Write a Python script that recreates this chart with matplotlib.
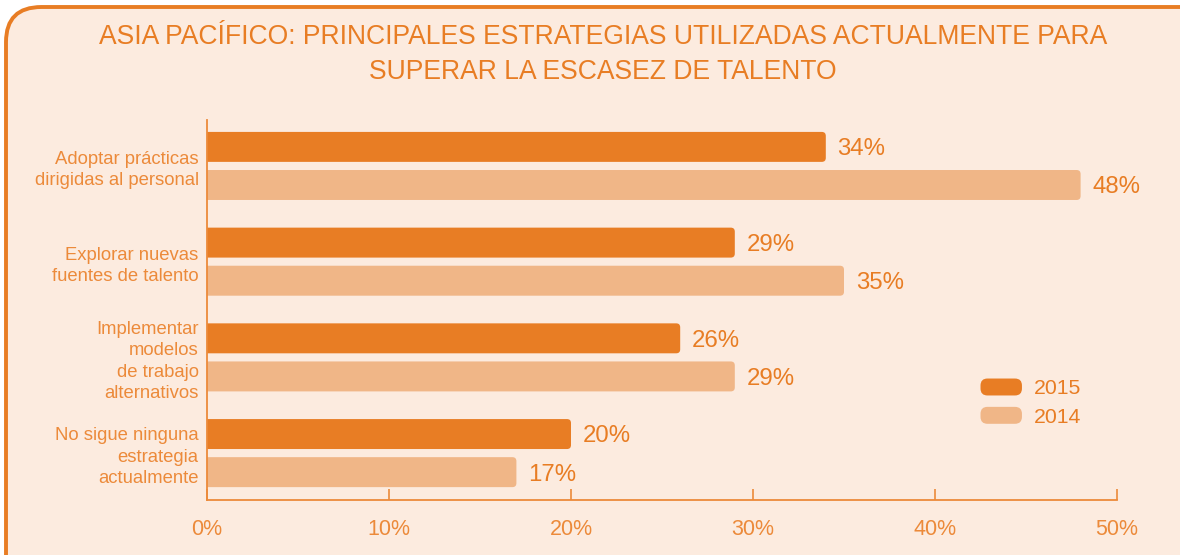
import matplotlib.pyplot as plt
import numpy as np
from matplotlib.patches import FancyBboxPatch
from matplotlib.legend_handler import HandlerPatch
from matplotlib.patches import Patch

plt.rcParams['font.family'] = ['Liberation Sans', 'DejaVu Sans']

categories = ["Adoptar prácticas\ndirigidas al personal",
              "Explorar nuevas\nfuentes de talento",
              "Implementar\nmodelos\nde trabajo\nalternativos",
              "No sigue ninguna\nestrategia\nactualmente"]
vals_2015 = [34, 29, 26, 20]
vals_2014 = [48, 35, 29, 17]
series = ["2015", "2014"]

ORANGE = "#E87D24"
LIGHT = "#F0B687"
BG = "#FCEBDF"
TEXT = "#EC8A3A"

fig = plt.figure(figsize=(11.8, 5.55), dpi=100)
fig.patch.set_facecolor("white")

# marco redondeado detrás de todo
frame = FancyBboxPatch((6 / 1180, -0.2), 1.2, 1.2 - 7 / 555,
                       boxstyle="round,pad=0,rounding_size=0.03",
                       transform=fig.transFigure, facecolor=BG,
                       edgecolor=ORANGE, linewidth=2.8, mutation_aspect=2.1,
                       zorder=-10)
fig.patches.append(frame)

fig.text(0.511, 1 - 37 / 555, "ASIA PACÍFICO: PRINCIPALES ESTRATEGIAS UTILIZADAS ACTUALMENTE PARA",
         ha="center", va="center", fontsize=19.1, color=ORANGE)
fig.text(0.511, 1 - 72 / 555, "SUPERAR LA ESCASEZ DE TALENTO",
         ha="center", va="center", fontsize=19.1, color=ORANGE)

ax = fig.add_axes([207 / 1180, 55 / 555, 910 / 1180, 380 / 555])
ax.set_facecolor("none")
ax.set_zorder(5)

y = np.arange(len(categories))
bar_h = 0.313
off = 0.199
xr = 4 / 18.2
asp = (4 / 95.7) / xr


def rbar(x, yc, color):
    p = FancyBboxPatch((-1, yc - bar_h / 2), x + 1, bar_h,
                       boxstyle="round,pad=0,rounding_size=%f" % xr,
                       mutation_aspect=asp, facecolor=color, edgecolor="none")
    ax.add_patch(p)


for i in range(len(categories)):
    rbar(vals_2015[i], y[i] - off, ORANGE)
    rbar(vals_2014[i], y[i] + off, LIGHT)
    ax.text(vals_2015[i] + 0.65, y[i] - off + 0.025, f"{vals_2015[i]}%", va="center",
            ha="left", fontsize=17.3, color=ORANGE)
    ax.text(vals_2014[i] + 0.65, y[i] + off + 0.025, f"{vals_2014[i]}%", va="center",
            ha="left", fontsize=17.3, color=ORANGE)

ax.set_xlim(0, 50)
ax.set_ylim(3.49, -0.48)
ax.set_xticks(range(0, 51, 10))
ax.set_xticklabels([f"{t}%" for t in range(0, 51, 10)], fontsize=15.5, color=TEXT)
ax.tick_params(axis="x", direction="in", length=8, color=TEXT, width=1.2, pad=14)
ax.set_yticks(y)
ax.set_yticklabels(categories, fontsize=13.3, color=TEXT, linespacing=1.35)
ax.tick_params(axis="y", length=0, pad=6)
for s in ["top", "right"]:
    ax.spines[s].set_visible(False)
for s in ["left", "bottom"]:
    ax.spines[s].set_color(TEXT)
    ax.spines[s].set_linewidth(1.3)


class RoundHandler(HandlerPatch):
    def create_artists(self, legend, orig_handle, xdescent, ydescent,
                       width, height, fontsize, trans):
        p = FancyBboxPatch((-xdescent, -ydescent), width, height,
                           boxstyle="round,pad=0,rounding_size=5",
                           facecolor=orig_handle.get_facecolor(), edgecolor="none",
                           transform=trans)
        return [p]


handles = [Patch(facecolor=ORANGE), Patch(facecolor=LIGHT)]
leg = ax.legend(handles, series, loc="upper left", bbox_to_anchor=(0.829, 0.37),
                frameon=False, fontsize=15.3, labelcolor=ORANGE,
                handlelength=1.95, handleheight=0.85, handletextpad=0.55,
                labelspacing=0.4, handler_map={Patch: RoundHandler()})

fig.savefig("out.png", dpi=100, facecolor=fig.get_facecolor())
